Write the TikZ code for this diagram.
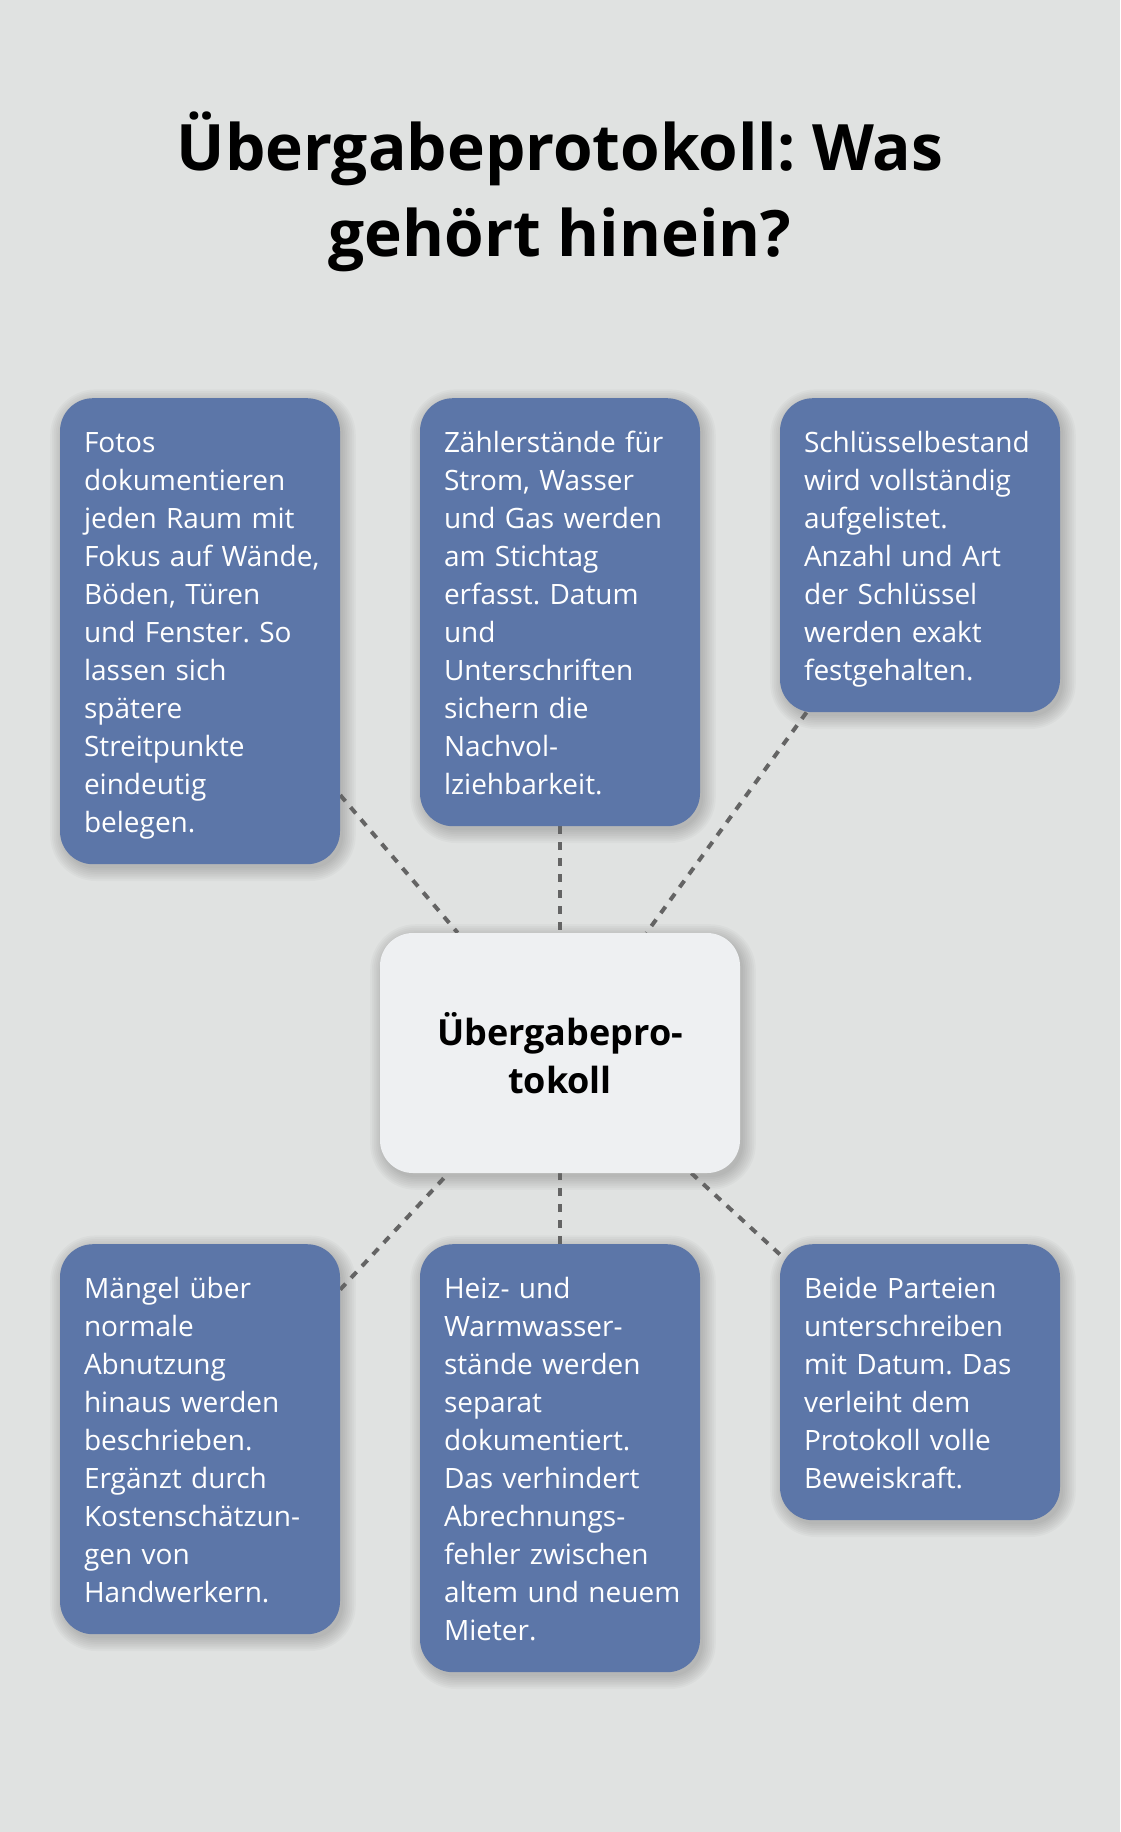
\documentclass[tikz,border=0pt]{standalone}
\usepackage{fontspec}
\setmainfont{Open Sans}
\frenchspacing
\definecolor{bgc}{RGB}{224,226,225}
\definecolor{boxc}{RGB}{92,118,168}
\definecolor{ctrc}{RGB}{238,240,242}
\definecolor{linec}{RGB}{100,100,100}
\pgfdeclarelayer{back}
\pgfdeclarelayer{shad}
\pgfsetlayers{back,shad,main}
\newcommand{\fs}{\rule{0pt}{30pt}}
\newcommand{\ls}{\rule[-8pt]{0pt}{8pt}}
\newcommand{\shadowfor}[1]{%
  \begin{pgfonlayer}{shad}
  \foreach \i in {0,...,7}{%
    \fill[black, opacity=0.025, rounded corners={33pt+\i*1.8pt}]
      ([xshift={3pt-\i*1.8pt}, yshift={-4pt+\i*1.8pt}]#1.north west) rectangle
      ([xshift={3pt+\i*1.8pt}, yshift={-4pt-\i*1.8pt}]#1.south east);
  }
  \end{pgfonlayer}}
\tikzset{
  infobox/.style={draw=none, fill=boxc, rounded corners=33pt, text=white,
    text width=232pt, inner xsep=24pt, inner ysep=24pt, align=left, anchor=north,
    font=\fontsize{28pt}{38pt}\selectfont},
  ctrbox/.style={draw=none, fill=ctrc, rounded corners=33pt, minimum width=360pt, minimum height=240pt,
    align=center, font=\bfseries\fontsize{36pt}{48pt}\selectfont},
  conn/.style={draw=linec, line width=4pt, dash pattern=on 8pt off 8pt},
  titletext/.style={align=center, font=\bfseries\fontsize{64pt}{86pt}\selectfont}
}
\begin{document}
\begin{tikzpicture}[x=1pt,y=-1pt]
\begin{pgfonlayer}{back}
\fill[bgc] (0,0) rectangle (1120,1832);
\end{pgfonlayer}
\useasboundingbox (0,0) rectangle (1120,1832);
\node[titletext, anchor=base] (title) at (560,256) {Übergabeprotokoll: Was\\gehört hinein?};

\node[infobox] (tl) at (200,398) {\fs Fotos\\dokumentieren\\jeden Raum mit\\Fokus~auf~Wände,\\Böden, Türen\\und Fenster. So\\lassen sich\\spätere\\Streitpunkte\\eindeutig\\belegen.\ls};
\node[infobox] (tm) at (560,398) {\fs Zählerstände~für\\Strom, Wasser\\und Gas werden\\am Stichtag\\erfasst. Datum\\und\\Unterschriften\\sichern die\\Nachvol-\\lziehbarkeit.\ls};
\node[infobox] (tr) at (920,398) {\fs Schlüsselbestand\\wird~vollständig\\aufgelistet.\\Anzahl und Art\\der Schlüssel\\werden exakt\\festgehalten.\ls};
\node[infobox] (bl) at (200,1244) {\fs Mängel über\\normale\\Abnutzung\\hinaus werden\\beschrieben.\\Ergänzt durch\\Kostenschätzun-\\gen von\\Handwerkern.\ls};
\node[infobox] (bm) at (560,1244) {\fs Heiz- und\\Warmwasser-\\stände werden\\separat\\dokumentiert.\\Das verhindert\\Abrechnungs-\\fehler~zwischen\\altem~und~neuem\\Mieter.\ls};
\node[infobox] (br) at (920,1244) {\fs Beide Parteien\\unterschreiben\\mit~Datum.~Das\\verleiht dem\\Protokoll~volle\\Beweiskraft.\ls};

\node[ctrbox] (c) at (560,1053) {Übergabepro-\\tokoll};

\shadowfor{tl}\shadowfor{tm}\shadowfor{tr}
\shadowfor{bl}\shadowfor{bm}\shadowfor{br}
\shadowfor{c}

\begin{pgfonlayer}{shad}
\draw[conn] (tl) -- (c);
\draw[conn] (tm) -- (c);
\draw[conn] (tr) -- (c);
\draw[conn] (bl) -- (c);
\draw[conn] (bm) -- (c);
\draw[conn] (br) -- (c);
\end{pgfonlayer}
\end{tikzpicture}
\end{document}
